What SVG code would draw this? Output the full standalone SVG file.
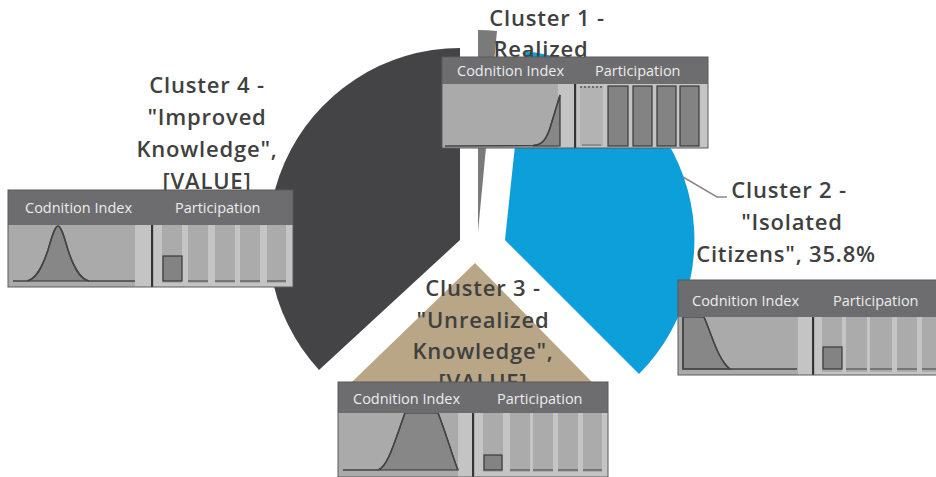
<svg xmlns="http://www.w3.org/2000/svg" width="936" height="477" viewBox="0 0 936 477">
<style>
.lbl{font-family:"Open Sans","Liberation Sans",sans-serif;font-weight:600;font-size:22px;letter-spacing:0.8px;fill:#404040;text-anchor:middle}
.hdr{font-family:"Open Sans","Liberation Sans",sans-serif;font-size:14.5px;fill:#ececec}
.head{fill:#6d6d6f}
.body{fill:#aaaaaa}
.strip{fill:#c4c4c4}
.col{fill:#ababab}
.bar{fill:#838383;stroke:#3a3a3a;stroke-width:1.2}
.div{stroke:#333;stroke-width:2}
.base{stroke:#444;stroke-width:1.5;fill:none}
.curve{fill:#878787;stroke:#333;stroke-width:1.2}
.frame{fill:none;stroke:#5a5a5a;stroke-width:1}
</style>
<rect width="936" height="477" fill="#ffffff"/>

<g id="slices">
  <path id="slice4" d="M460,240 L319,370 A192,192 0 0,1 460,48 Z" fill="#444446"/>
  <path id="slice2" d="M505,240 L525,51 A190,190 0 0,1 639,374 Z" fill="#0c9fd9"/>
  <path id="slice3" d="M475,263 L604.7,394.9 A185,185 0 0,1 342,391.5 Z" fill="#b9a687"/>
  <path id="slice1" d="M478,232 L478,30 A202,202 0 0,1 497,31 Z" fill="#7a7a7a"/>
</g>

<g id="connectors">
  <polyline points="683,177 717,197 727,197" fill="none" stroke="#888" stroke-width="1.5"/>
</g>

<g id="label1">
  <text class="lbl" x="547" y="26">Cluster 1 -</text>
  <text class="lbl" x="541" y="57">Realized</text>
</g>
<g id="label4">
  <text class="lbl" x="207" y="93">Cluster 4 -</text>
  <text class="lbl" x="207" y="125">"Improved</text>
  <text class="lbl" x="207" y="157">Knowledge",</text>
  <text class="lbl" x="207" y="189">[VALUE]</text>
</g>
<g id="label2">
  <text class="lbl" x="789" y="198">Cluster 2 -</text>
  <text class="lbl" x="792" y="230">"Isolated</text>
  <text class="lbl" x="786" y="262">Citizens", 35.8%</text>
</g>
<g id="label3">
  <text class="lbl" x="483" y="296">Cluster 3 -</text>
  <text class="lbl" x="483" y="328">"Unrealized</text>
  <text class="lbl" x="483" y="359">Knowledge",</text>
  <text class="lbl" x="483" y="390">[VALUE]</text>
</g>

<g id="box1">
  <rect class="body" x="442" y="57" width="266" height="91"/>
  <rect class="strip" x="558" y="84" width="16" height="64"/>
  <rect class="strip" x="577" y="84" width="131" height="64"/>
  <path class="curve" d="M533,145.5 C542,145 546,140 550,128 L560,95 L560,146 L533,146 Z"/>
  <path class="base" d="M445,146 L533,145.5 C542,145 546,140 550,128 L560,95"/>
  <line class="div" x1="575" y1="84" x2="575" y2="148"/>
  <rect x="580" y="86" width="23" height="60" fill="#b3b3b3"/>
  <line x1="580" y1="87" x2="603" y2="87" stroke="#555" stroke-width="1.5" stroke-dasharray="2,2"/>
  <line x1="582" y1="145" x2="601" y2="145" stroke="#666" stroke-width="1"/>
  <rect class="bar" x="608" y="86" width="20" height="60"/>
  <rect class="bar" x="633" y="86" width="19" height="60"/>
  <rect class="bar" x="657" y="86" width="19" height="60"/>
  <rect class="bar" x="680" y="86" width="19" height="60"/>
  <rect class="head" x="442" y="57" width="266" height="27"/>
  <rect class="frame" x="442" y="57" width="266" height="91"/>
  <text class="hdr" x="457" y="76" font-size="13.5">Codnition Index</text>
  <text class="hdr" x="595" y="76" font-size="13.5">Participation</text>
</g>

<g id="box4">
  <rect class="body" x="8" y="190" width="285" height="97"/>
  <rect class="strip" x="135" y="225" width="16" height="62"/>
  <rect class="strip" x="154" y="225" width="139" height="62"/>
  <path class="curve" d="M27,281 C36,279 42,268 48,250 C52,236 55,226 58,226 C61,226 64,236 68,250 C74,268 80,279 89,281 Z"/>
  <path class="base" d="M13,281 L27,281 C36,279 42,268 48,250 C52,236 55,226 58,226 C61,226 64,236 68,250 C74,268 80,279 89,281 L135,281"/>
  <line class="div" x1="152" y1="225" x2="152" y2="287"/>
  <rect class="col" x="162" y="225" width="20" height="58"/>
  <rect class="col" x="188" y="225" width="20" height="58"/>
  <rect class="col" x="215" y="225" width="20" height="58"/>
  <rect class="col" x="240" y="225" width="20" height="58"/>
  <rect class="col" x="267" y="225" width="19" height="58"/>
  <path d="M188,281h20M215,281h20M240,281h20M267,281h19" stroke="#666" stroke-width="1.5"/>
  <rect class="bar" x="163" y="256" width="19" height="25"/>
  <rect class="head" x="8" y="190" width="285" height="35"/>
  <rect class="frame" x="8" y="190" width="285" height="97"/>
  <text class="hdr" x="25" y="213" font-size="15.8">Codnition Index</text>
  <text class="hdr" x="175" y="213" font-size="15.8">Participation</text>
</g>

<g id="box2">
  <rect class="body" x="678" y="280" width="260" height="95"/>
  <rect class="strip" x="798" y="317" width="14" height="58"/>
  <rect class="strip" x="815" y="317" width="123" height="58"/>
  <path class="curve" d="M683,317 L704,317 C712,335 718,360 730,369 L683,369 Z"/>
  <path class="base" d="M683,317 L683,369 L797,369 M704,317 C712,335 718,360 730,369"/>
  <line class="div" x1="813" y1="317" x2="813" y2="375"/>
  <rect class="col" x="822" y="317" width="20" height="55"/>
  <rect class="col" x="846" y="317" width="21" height="55"/>
  <rect class="col" x="870" y="317" width="22" height="55"/>
  <rect class="col" x="897" y="317" width="20" height="55"/>
  <rect class="col" x="922" y="317" width="14" height="55"/>
  <path d="M846,369h21M870,369h22M897,369h20M922,369h14" stroke="#666" stroke-width="1.5"/>
  <rect class="bar" x="823" y="347" width="19" height="22"/>
  <rect class="head" x="678" y="280" width="260" height="37"/>
  <rect class="frame" x="678" y="280" width="260" height="95"/>
  <text class="hdr" x="692" y="306">Codnition Index</text>
  <text class="hdr" x="833" y="306">Participation</text>
</g>

<g id="box3">
  <rect class="body" x="338" y="382" width="270" height="95"/>
  <rect class="strip" x="458" y="413" width="14" height="64"/>
  <rect class="strip" x="475" y="413" width="133" height="64"/>
  <path class="curve" d="M378,470 C388,467 395,440 405,413 L438,413 C445,430 452,455 458,470 Z"/>
  <path class="base" d="M343,470 L378,470 C388,467 395,440 405,413 M438,413 C445,430 452,455 458,470"/>
  <line class="div" x1="473" y1="413" x2="473" y2="477"/>
  <rect class="col" x="483" y="413" width="20" height="59"/>
  <rect class="col" x="510" y="413" width="20" height="59"/>
  <rect class="col" x="533" y="413" width="20" height="59"/>
  <rect class="col" x="558" y="413" width="20" height="59"/>
  <rect class="col" x="583" y="413" width="19" height="59"/>
  <path d="M510,470h20M533,470h20M558,470h20M583,470h19" stroke="#666" stroke-width="1.5"/>
  <rect class="bar" x="484" y="455" width="18" height="15"/>
  <rect class="head" x="338" y="382" width="270" height="31"/>
  <rect class="frame" x="338" y="382" width="270" height="95"/>
  <text class="hdr" x="353" y="404">Codnition Index</text>
  <text class="hdr" x="497" y="404">Participation</text>
</g>
</svg>
